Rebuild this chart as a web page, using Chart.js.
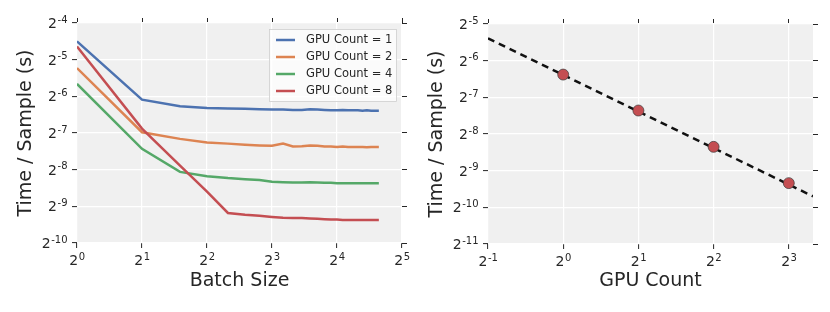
<!DOCTYPE html>
<html>
<head>
<meta charset="utf-8">
<script src="https://cdn.jsdelivr.net/npm/chart.js@4.4.1/dist/chart.umd.min.js"></script>
<style>
  html, body { margin: 0; padding: 0; background: #fff; }
  .wrap { display: flex; width: 830px; height: 312px; }
  canvas { display: block; }
</style>
</head>
<body>
<div class="wrap">
  <canvas id="batchChart" width="415" height="312"></canvas>
  <canvas id="gpuChart" width="415" height="312"></canvas>
</div>
<script>
// left panel: time per sample vs batch size
const batchSizes = [1, 2, 3, 4, 5, 6, 7, 8, 9, 10, 11, 12, 13, 14, 15, 16, 17, 18, 19, 20, 21, 22, 23, 24, 25]
const gpu1Times = [0.04419, 0.01468, 0.01296, 0.01252, 0.01243, 0.01234, 0.01226, 0.01218, 0.01218, 0.01209, 0.01209, 0.01226, 0.01218, 0.01209, 0.01201, 0.01201, 0.01209, 0.01201, 0.01201, 0.01201, 0.01192, 0.01201, 0.01192, 0.01192, 0.01192]
const gpu2Times = [0.02664, 0.007922, 0.006992, 0.006524, 0.006391, 0.006258, 0.006172, 0.006130, 0.006391, 0.006045, 0.006088, 0.006172, 0.006130, 0.006045, 0.006045, 0.006003, 0.006045, 0.006003, 0.006003, 0.006003, 0.006003, 0.005962, 0.006003, 0.006003, 0.006003]
const gpu4Times = [0.01978, 0.005799, 0.003747, 0.003448, 0.003330, 0.003262, 0.003217, 0.003107, 0.003086, 0.003065, 0.003065, 0.003086, 0.003065, 0.003044, 0.003044, 0.003023, 0.003023, 0.003023, 0.003023, 0.003023, 0.003023, 0.003023, 0.003023, 0.003023, 0.003023]
const gpu8Times = [0.04011, 0.008491, 0.004216, 0.002577, 0.001724, 0.001665, 0.001631, 0.001598, 0.001575, 0.001565, 0.001565, 0.001554, 0.001543, 0.001532, 0.001522, 0.001522, 0.001511, 0.001511, 0.001511, 0.001511, 0.001511, 0.001511, 0.001511, 0.001511, 0.001511]
const seriesLabels = ['GPU Count = 1', 'GPU Count = 2', 'GPU Count = 4', 'GPU Count = 8']
const seriesColors = ['#4c72b0', '#dd8452', '#55a868', '#c44e52']

// right panel: time per sample vs gpu count
const gpuCounts = [1, 2, 4, 8]
const gpuCountTimes = [0.01201, 0.006088, 0.003065, 0.001543]
const idealX = [0.5, 10]
const idealY = [0.02385, 0.001202]

// tick exponents (base 2)
const batchXExps = [0, 1, 2, 3, 4, 5]
const batchYExps = [-10, -9, -8, -7, -6, -5, -4]
const gpuXExps = [-1, 0, 1, 2, 3]
const gpuYExps = [-11, -10, -9, -8, -7, -6, -5]

const FONT = 'DejaVu Sans'
const INK = '#262626'

const plotBg = {
    id: 'plotBg',
    beforeDraw(chart) {
        const { ctx, chartArea: a } = chart
        ctx.save()
        ctx.fillStyle = '#f0f0f0'
        ctx.fillRect(a.left, a.top, a.right - a.left, a.bottom - a.top)
        ctx.restore()
    }
}

// tick labels as 2 with a raised exponent, placed with the scales
const expLabels = {
    id: 'expLabels',
    afterDraw(chart, args, opts) {
        const { ctx, chartArea: a } = chart
        const baseFont = '14px "' + FONT + '"'
        const supFont = '10px "' + FONT + '"'
        const widths = (e) => {
            ctx.font = baseFont
            const bw = ctx.measureText('2').width
            ctx.font = supFont
            return [bw, ctx.measureText(String(e)).width]
        }
        const draw = (e, left, baseY, bw) => {
            ctx.font = baseFont
            ctx.fillText('2', left, baseY)
            ctx.font = supFont
            ctx.fillText(String(e), left + bw + 0.5, baseY - 5.5)
        }
        ctx.save()
        ctx.fillStyle = INK
        ctx.textBaseline = 'alphabetic'
        ctx.textAlign = 'left'
        opts.xExps.forEach(e => {
            const px = chart.scales.x.getPixelForValue(Math.pow(2, e))
            const [bw, sw] = widths(e)
            draw(e, px - (bw + sw) / 2, a.bottom + 22, bw)
        })
        opts.yExps.forEach(e => {
            const py = chart.scales.y.getPixelForValue(Math.pow(2, e))
            const [bw, sw] = widths(e)
            draw(e, a.left - 10 - bw - sw, py + 5, bw)
        })
        ctx.restore()
    }
}

// legend box drawn inside the plot, upper right
const boxLegend = {
    id: 'boxLegend',
    afterDraw(chart, args, opts) {
        if (!opts.show) return
        const { ctx, chartArea: a } = chart
        const w = 128, h = 73
        const x = a.right - 5 - w, y = a.top + 6
        ctx.save()
        ctx.fillStyle = 'rgba(255,255,255,0.75)'
        ctx.strokeStyle = '#cccccc'
        ctx.lineWidth = 0.8
        ctx.fillRect(x, y, w, h)
        ctx.strokeRect(x + 0.5, y + 0.5, w - 1, h - 1)
        ctx.font = '11.5px "' + FONT + '"'
        ctx.textBaseline = 'middle'
        ctx.fillStyle = INK
        seriesLabels.forEach((lab, i) => {
            const ry = y + 11 + i * 17
            ctx.strokeStyle = seriesColors[i]
            ctx.lineWidth = 2.5
            ctx.beginPath()
            ctx.moveTo(x + 7, ry)
            ctx.lineTo(x + 26, ry)
            ctx.stroke()
            ctx.fillText(lab, x + 37, ry)
        })
        ctx.restore()
    }
}

function logAxis(exps, min, max, extra) {
    return Object.assign({
        type: 'logarithmic',
        min: min,
        max: max,
        afterBuildTicks: (scale) => { scale.ticks = exps.map(e => ({ value: Math.pow(2, e) })) },
        border: { display: false },
        grid: { color: '#ffffff', lineWidth: 1.2, tickColor: INK, tickLength: 5, tickWidth: 1 },
        ticks: { display: false }
    }, extra)
}

function frameAxes(xExps, yExps, xMin, xMax, yMin, yMax, sizes, xTitle) {
    return {
        x: logAxis(xExps, xMin, xMax, {
            position: 'bottom',
            title: { display: true, text: xTitle, color: INK, font: { family: FONT, size: 19 }, padding: { bottom: 20 } },
            afterFit: (s) => { s.height = sizes.bottom }
        }),
        x2: logAxis(xExps, xMin, xMax, {
            position: 'top',
            grid: { drawOnChartArea: false, tickColor: INK, tickLength: 5 },
            afterFit: (s) => { s.height = sizes.top }
        }),
        y: logAxis(yExps, yMin, yMax, {
            position: 'left',
            title: { display: true, text: 'Time / Sample (s)', color: INK, font: { family: FONT, size: 19 }, padding: { top: sizes.titlePad } },
            afterFit: (s) => { s.width = sizes.left }
        }),
        y2: logAxis(yExps, yMin, yMax, {
            position: 'right',
            grid: { drawOnChartArea: false, tickColor: INK, tickLength: 5 },
            afterFit: (s) => { s.width = sizes.right }
        })
    }
}

const toPoints = (xs, ys) => xs.map((x, i) => ({ x: x, y: ys[i] }))

const batchSeries = [gpu1Times, gpu2Times, gpu4Times, gpu8Times]

new Chart(document.getElementById('batchChart'), {
    type: 'line',
    data: {
        datasets: batchSeries.map((ys, i) => ({
            label: seriesLabels[i],
            data: toPoints(batchSizes, ys),
            borderColor: seriesColors[i],
            borderWidth: 2.5,
            pointRadius: 0,
            tension: 0,
            order: 4 - i
        }))
    },
    options: {
        responsive: false,
        animation: false,
        layout: { padding: 0 },
        plugins: {
            legend: { display: false },
            tooltip: { enabled: false },
            boxLegend: { show: true },
            expLabels: { xExps: batchXExps, yExps: batchYExps }
        },
        scales: frameAxes(batchXExps, batchYExps, 1, 32, Math.pow(2, -10), Math.pow(2, -4),
            { left: 77, right: 13, top: 23, bottom: 69, titlePad: 15 }, 'Batch Size')
    },
    plugins: [plotBg, expLabels, boxLegend]
})

new Chart(document.getElementById('gpuChart'), {
    type: 'line',
    data: {
        datasets: [{
            label: 'measured',
            data: toPoints(gpuCounts, gpuCountTimes),
            showLine: false,
            pointRadius: 5.5,
            pointBackgroundColor: '#c44e52',
            pointBorderColor: '#3a3a3a',
            pointBorderWidth: 0.7
        }, {
            label: 'ideal',
            data: toPoints(idealX, idealY),
            borderColor: '#111111',
            borderWidth: 2.5,
            borderDash: [7, 5],
            pointRadius: 0,
            tension: 0
        }]
    },
    options: {
        responsive: false,
        animation: false,
        layout: { padding: 0 },
        plugins: {
            legend: { display: false },
            tooltip: { enabled: false },
            boxLegend: { show: false },
            expLabels: { xExps: gpuXExps, yExps: gpuYExps }
        },
        scales: frameAxes(gpuXExps, gpuYExps, 0.5, 10, Math.pow(2, -11), Math.pow(2, -5),
            { left: 73, right: 17, top: 24, bottom: 68, titlePad: 11 }, 'GPU Count')
    },
    plugins: [plotBg, expLabels, boxLegend]
})
</script>
</body>
</html>
